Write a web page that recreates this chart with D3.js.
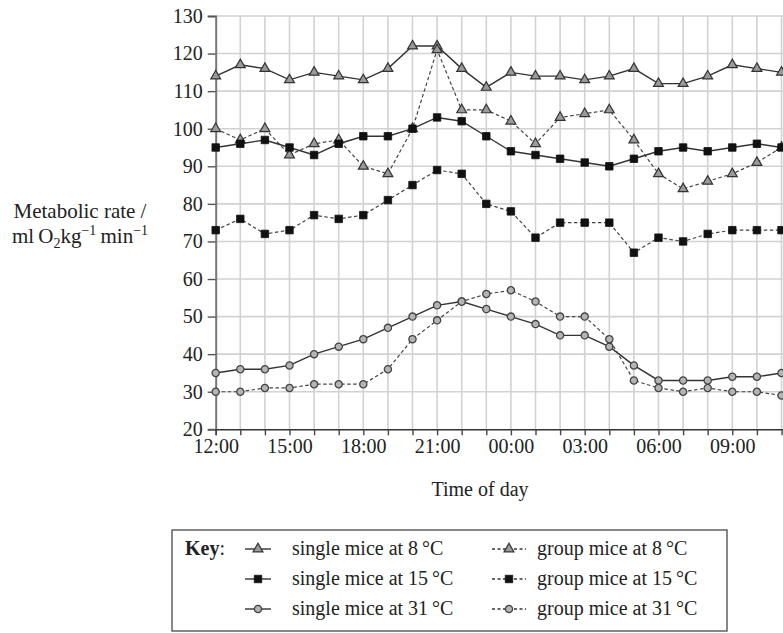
<!DOCTYPE html>
<html>
<head>
<meta charset="utf-8">
<script src="https://cdn.jsdelivr.net/npm/d3@7"></script>
<style>
  body { margin: 0; background: #fff; }
  svg { font-family: "Liberation Serif", "Times New Roman", serif; }
</style>
</head>
<body>
<svg id="chart" width="783" height="633"></svg>
<script>
/* data: one value per hour, 12:00 .. 11:00 */
var hours = d3.range(0, 24);
var hourLabels = ["12:00", "15:00", "18:00", "21:00", "00:00", "03:00", "06:00", "09:00"];
var yTicks = [20, 30, 40, 50, 60, 70, 80, 90, 100, 110, 120, 130];

var single8  = [114, 117, 116, 113, 115, 114, 113, 116, 122, 122, 116, 111, 115, 114, 114, 113, 114, 116, 112, 112, 114, 117, 116, 115];
var group8   = [100, 97, 100, 93, 96, 97, 90, 88, 100, 121, 105, 105, 102, 96, 103, 104, 105, 97, 88, 84, 86, 88, 91, 95];
var single15 = [95, 96, 97, 95, 93, 96, 98, 98, 100, 103, 102, 98, 94, 93, 92, 91, 90, 92, 94, 95, 94, 95, 96, 95];
var group15  = [73, 76, 72, 73, 77, 76, 77, 81, 85, 89, 88, 80, 78, 71, 75, 75, 75, 67, 71, 70, 72, 73, 73, 73];
var single31 = [35, 36, 36, 37, 40, 42, 44, 47, 50, 53, 54, 52, 50, 48, 45, 45, 42, 37, 33, 33, 33, 34, 34, 35];
var group31  = [30, 30, 31, 31, 32, 32, 32, 36, 44, 49, 54, 56, 57, 54, 50, 50, 44, 33, 31, 30, 31, 30, 30, 29];

var series = [
  { name: "single mice at 8\u2009\u00b0C",  values: single8,  marker: "tri", dashed: false },
  { name: "group mice at 8\u2009\u00b0C",   values: group8,   marker: "tri", dashed: true },
  { name: "single mice at 15\u2009\u00b0C", values: single15, marker: "sq",  dashed: false },
  { name: "group mice at 15\u2009\u00b0C",  values: group15,  marker: "sq",  dashed: true },
  { name: "single mice at 31\u2009\u00b0C", values: single31, marker: "ci",  dashed: false },
  { name: "group mice at 31\u2009\u00b0C",  values: group31,  marker: "ci",  dashed: true }
];

var svg = d3.select("#chart");

/* scales: hour index -> x, rate -> y */
var x = d3.scaleLinear().domain([0, 24]).range([215.7, 806.1]);
var y = d3.scaleLinear().domain([20, 130]).range([429.3, 16]);

/* grid */
var grid = svg.append("g").attr("class", "grid");
grid.selectAll("line.v")
  .data(d3.range(1, 25))
  .enter().append("line")
  .attr("x1", function (d) { return x(d); })
  .attr("x2", function (d) { return x(d); })
  .attr("y1", y(130)).attr("y2", y(20))
  .attr("stroke", "#d2d2d2").attr("stroke-width", 1.6);
grid.selectAll("line.h")
  .data(yTicks.slice(1))
  .enter().append("line")
  .attr("x1", x(0)).attr("x2", x(24))
  .attr("y1", function (d) { return y(d); })
  .attr("y2", function (d) { return y(d); })
  .attr("stroke", "#d2d2d2").attr("stroke-width", 1.6);

/* y axis */
var yAxis = d3.axisLeft(y).tickValues(yTicks).tickSize(8).tickPadding(5);
var yAxisG = svg.append("g")
  .attr("transform", "translate(" + x(0) + ",0)")
  .call(yAxis);
yAxisG.select(".domain").attr("stroke", "#777").attr("stroke-width", 2);
yAxisG.selectAll(".tick line").attr("stroke", "#555").attr("stroke-width", 1.4);
yAxisG.selectAll("text")
  .attr("fill", "#222")
  .style("font-size", "20px")
  .style("font-family", "Liberation Serif, serif");

/* x axis */
var xAxis = d3.axisBottom(x)
  .tickValues(hours)
  .tickSize(6)
  .tickPadding(4)
  .tickFormat(function (d) { return d % 3 === 0 ? hourLabels[d / 3] : ""; });
var xAxisG = svg.append("g")
  .attr("transform", "translate(0," + y(20) + ")")
  .call(xAxis);
xAxisG.select(".domain").attr("stroke", "#333").attr("stroke-width", 1.6);
xAxisG.selectAll(".tick line").attr("stroke", "#444").attr("stroke-width", 1.4);
xAxisG.selectAll("text")
  .attr("fill", "#222")
  .style("font-size", "20px")
  .style("font-family", "Liberation Serif, serif");

/* markers */
function drawMarker(sel, kind) {
  if (kind === "tri") {
    sel.append("path")
      .attr("d", d3.symbol().type(d3.symbolTriangle).size(42)())
      .attr("fill", "#9a9a9a").attr("stroke", "#333").attr("stroke-width", 1.2);
  } else if (kind === "sq") {
    sel.append("path")
      .attr("d", d3.symbol().type(d3.symbolSquare).size(56)())
      .attr("fill", "#111").attr("stroke", "#111").attr("stroke-width", 0.8);
  } else {
    sel.append("circle").attr("r", 3.6)
      .attr("fill", "#b4b4b4").attr("stroke", "#444").attr("stroke-width", 1.3);
  }
}

var line = d3.line()
  .x(function (d, i) { return x(i); })
  .y(function (d) { return y(d); });

var plot = svg.append("g").attr("class", "series");
series.forEach(function (s) {
  plot.append("path")
    .datum(s.values)
    .attr("d", line)
    .attr("fill", "none")
    .attr("stroke", s.dashed ? "#444" : "#333")
    .attr("stroke-width", s.dashed ? 1.2 : 1.4)
    .attr("stroke-dasharray", s.dashed ? "3.5,2.5" : null);
});
series.forEach(function (s) {
  plot.selectAll(null)
    .data(s.values)
    .enter().append("g")
    .attr("transform", function (d, i) { return "translate(" + x(i) + "," + y(d) + ")"; })
    .each(function () { drawMarker(d3.select(this), s.marker); });
});

/* axis legends */
svg.append("text")
  .attr("x", 80).attr("y", 218)
  .attr("text-anchor", "middle")
  .style("font-size", "21px").attr("fill", "#222")
  .text("Metabolic rate /");

var yLab2 = svg.append("text")
  .attr("x", 80).attr("y", 243)
  .attr("text-anchor", "middle")
  .style("font-size", "21px").attr("fill", "#222");
yLab2.append("tspan").text("ml\u2009O");
yLab2.append("tspan").text("2").attr("dy", 5).style("font-size", "14px");
yLab2.append("tspan").text("kg").attr("dy", -5);
yLab2.append("tspan").text("\u22121").attr("dy", -8).style("font-size", "14px");
yLab2.append("tspan").text("\u2009min").attr("dy", 8);
yLab2.append("tspan").text("\u22121").attr("dy", -8).style("font-size", "14px");

svg.append("text")
  .attr("x", 480).attr("y", 496)
  .attr("text-anchor", "middle")
  .style("font-size", "20px").attr("fill", "#222")
  .text("Time of day");

/* key */
var key = svg.append("g").attr("class", "key");
key.append("rect")
  .attr("x", 172).attr("y", 530).attr("width", 555).attr("height", 101)
  .attr("fill", "none").attr("stroke", "#555").attr("stroke-width", 1.4);
key.append("text")
  .attr("x", 185).attr("y", 555)
  .style("font-size", "20px").attr("fill", "#222")
  .html("<tspan font-weight='bold'>Key</tspan>:");

var rowY = [555, 585, 615];
series.forEach(function (s, i) {
  var row = Math.floor(i / 2), col = i % 2;
  var lx = col === 0 ? 245 : 492;
  var lw = col === 0 ? 26 : 34;
  var cy = rowY[row] - 6;
  var g = key.append("g");
  g.append("line")
    .attr("x1", lx).attr("x2", lx + lw)
    .attr("y1", cy).attr("y2", cy)
    .attr("stroke", "#333").attr("stroke-width", 1.4)
    .attr("stroke-dasharray", s.dashed ? "3,2.5" : null);
  var m = g.append("g").attr("transform", "translate(" + (lx + lw / 2) + "," + cy + ")");
  drawMarker(m, s.marker);
  g.append("text")
    .attr("x", col === 0 ? 292 : 537).attr("y", rowY[row])
    .style("font-size", "20px").attr("fill", "#222")
    .text(s.name);
});
</script>
</body>
</html>
